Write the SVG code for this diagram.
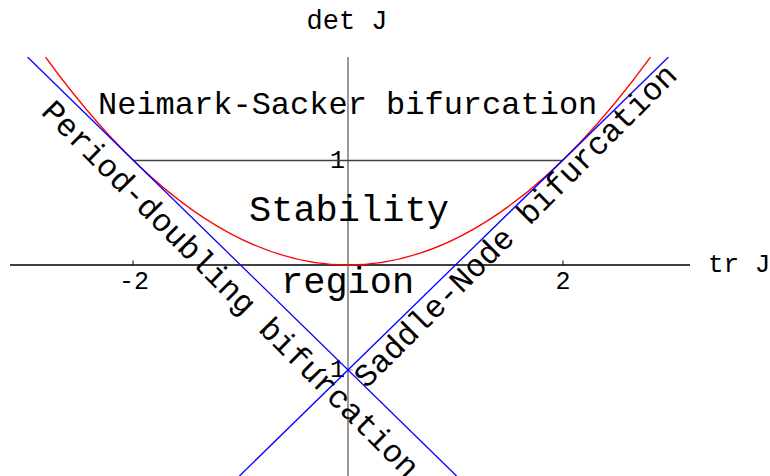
<svg xmlns="http://www.w3.org/2000/svg" width="770" height="476" viewBox="0 0 770 476">
<style>
text{font-family:"Liberation Mono","Courier New",monospace;fill:#000}
.tick{font-size:25px}
.ax{font-size:27px}
.big{font-size:32px}
.huge{font-size:37px}
.red{stroke:#ff0000;stroke-width:1.3;fill:none}
.blue{stroke:#0000ff;stroke-width:1.3;fill:none}
</style>
<defs>
<clipPath id="plot"><rect x="10" y="57" width="680" height="419"/></clipPath>
</defs>
<rect width="770" height="476" fill="#fff"/>
<g id="axes">
<line x1="10" y1="265" x2="690" y2="265" stroke="#000" stroke-width="1.3"/>
<line x1="348" y1="57" x2="348" y2="476" stroke="#808080" stroke-width="1.6"/>
<line x1="133" y1="265" x2="133" y2="260.5" stroke="#000" stroke-width="1"/>
<line x1="563" y1="265" x2="563" y2="260.5" stroke="#000" stroke-width="1"/>
<line x1="348" y1="160.5" x2="352.5" y2="160.5" stroke="#808080" stroke-width="1"/>
<line x1="348" y1="370" x2="352.5" y2="370" stroke="#808080" stroke-width="1"/>
<text class="tick" x="134" y="289" text-anchor="middle">-2</text>
<text class="tick" x="563" y="289" text-anchor="middle">2</text>
<text class="tick" x="345" y="168" text-anchor="end">1</text>
<text class="tick" x="345" y="377" text-anchor="end">-1</text>
<text class="ax" x="347" y="29" text-anchor="middle">det J</text>
<text class="ax" x="708" y="272" style="font-size:26px">tr J</text>
</g>
<g id="connectors" clip-path="url(#plot)">
<line id="ns-line" x1="133" y1="160.5" x2="563" y2="160.5" stroke="#404040" stroke-width="1.6"/>
<path id="parabola" class="red" d="M45.5,57 Q348,473 650.5,57"/>
<line id="pd-line" class="blue" x1="27.5" y1="57" x2="456.6" y2="476"/>
<line id="sn-line" class="blue" x1="668.5" y1="57" x2="239.4" y2="476"/>
</g>
<g id="label-ns"><text class="big" x="98" y="114">Neimark-Sacker bifurcation</text></g>
<g id="label-stability"><text class="huge" x="249" y="221">Stability</text><text class="huge" x="281" y="293">region</text></g>
<g id="label-pd"><text class="big" transform="translate(40,113) rotate(45)">Period-doubling bifurcation</text></g>
<g id="label-sn"><text class="big" transform="translate(366.6,389.2) rotate(-45)">Saddle-Node bifurcation</text></g>
</svg>
